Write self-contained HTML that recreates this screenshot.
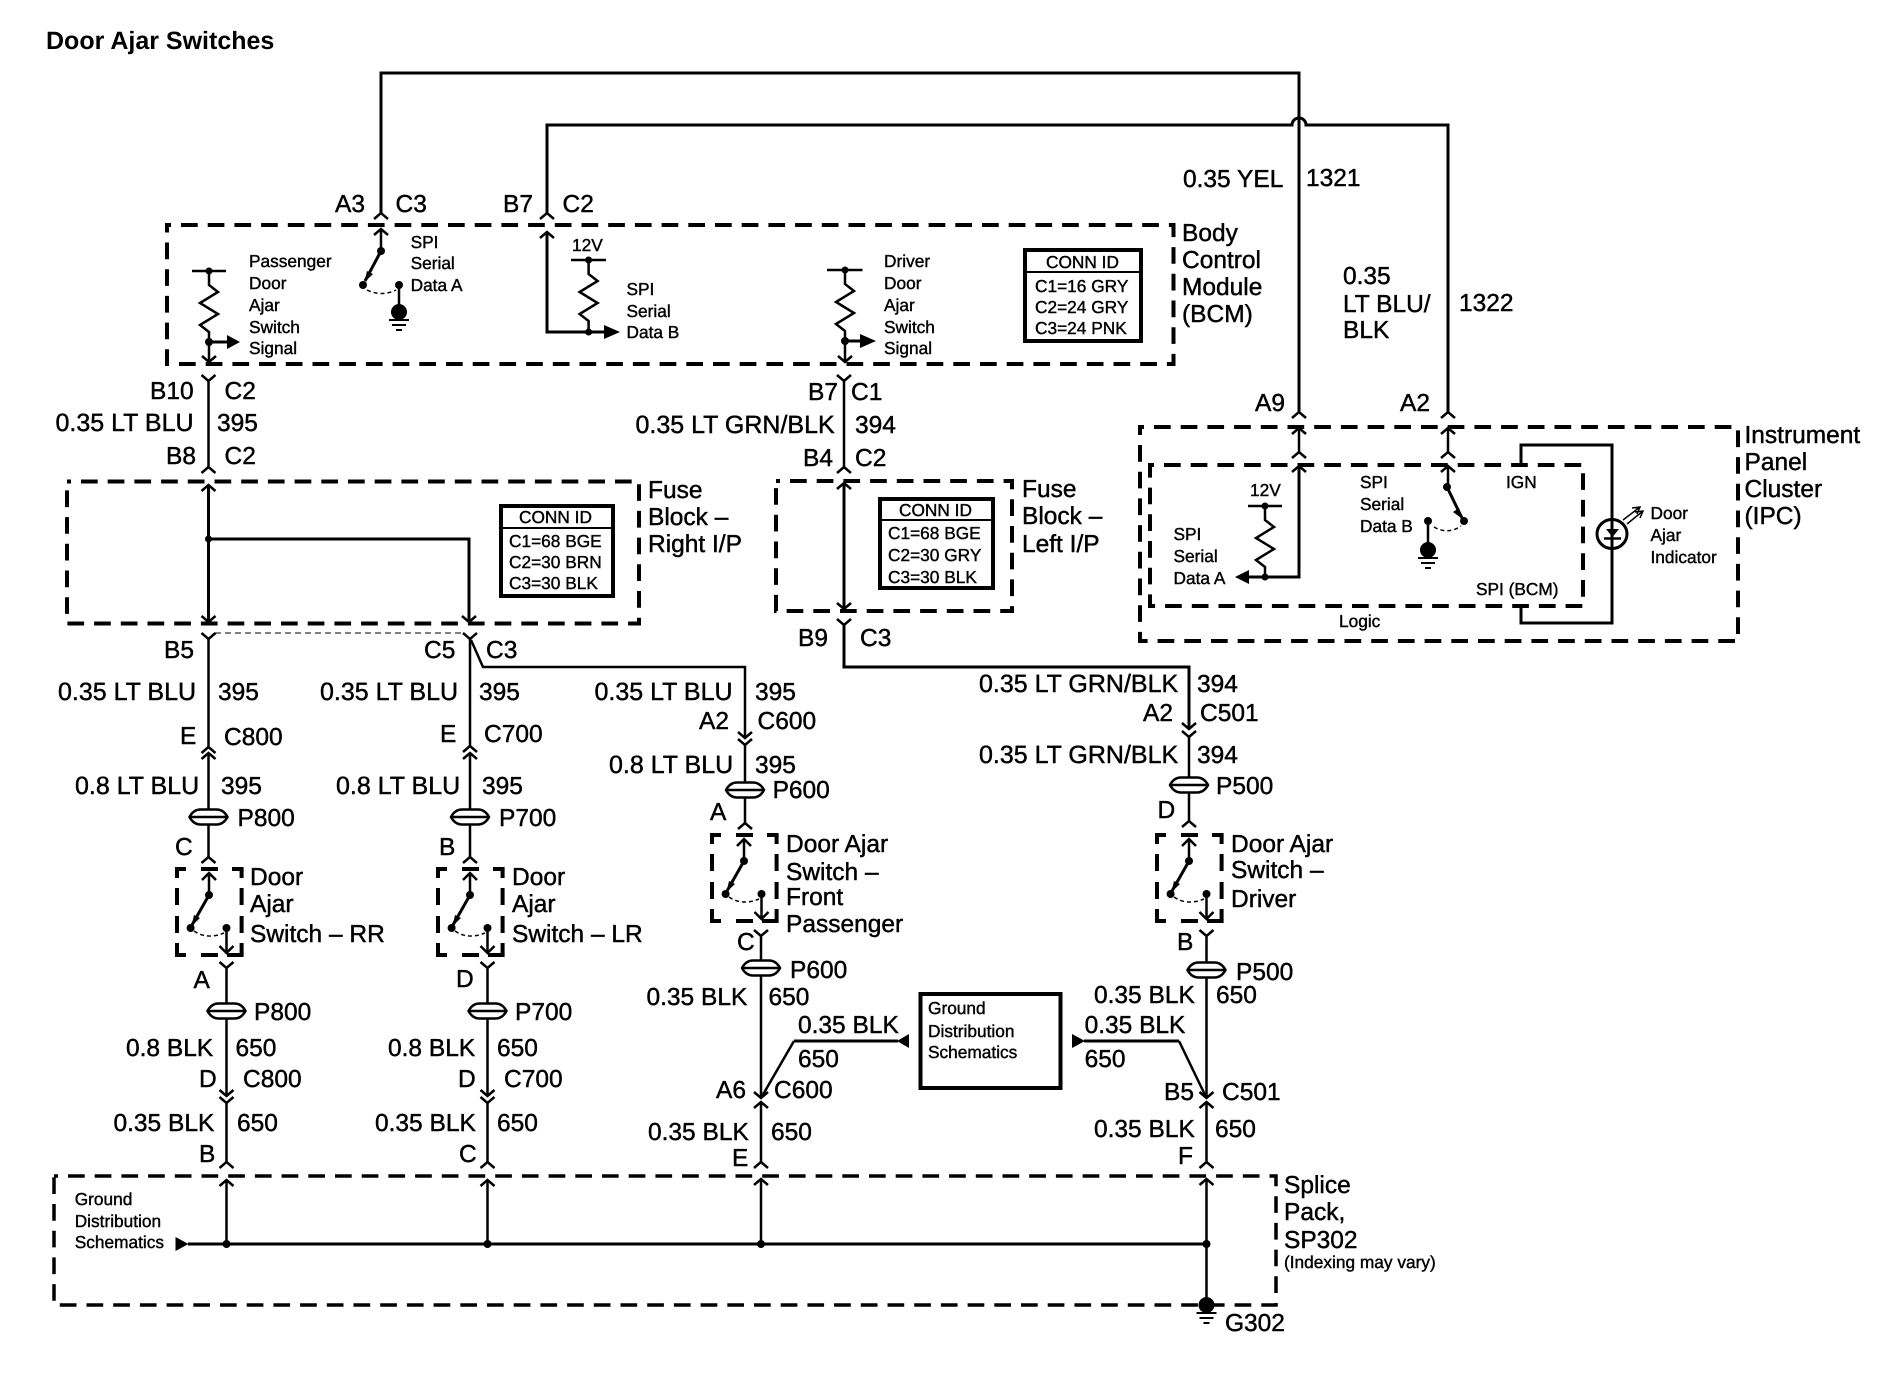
<!DOCTYPE html>
<html><head><meta charset="utf-8"><title>Door Ajar Switches</title>
<style>
html,body{margin:0;padding:0;background:#fff}
svg{display:block}
text{font-family:"Liberation Sans",Arial,sans-serif;fill:#000;text-rendering:geometricPrecision}
.l{font-size:24.5px;stroke:#000;stroke-width:.45px}
.lw{font-size:25px;stroke:#000;stroke-width:.45px}
.s{font-size:17.3px;stroke:#000;stroke-width:.4px}
.t{font-size:25px;font-weight:bold}
.w{fill:none;stroke:#000;stroke-width:3}
.n{fill:none;stroke:#000;stroke-width:2.5}
.d{fill:none;stroke:#000;stroke-width:4;stroke-dasharray:16.7 10;stroke-dashoffset:-14}
.b{fill:none;stroke:#000;stroke-width:4}
</style></head><body>
<svg xmlns="http://www.w3.org/2000/svg" width="1902" height="1392" viewBox="0 0 1902 1392">
<defs>
<path id="up" d="M-7,6 L0,0 L7,6" fill="none" stroke="#000" stroke-width="2.5"/>
<path id="dn" d="M-7,-6 L0,0 L7,-6" fill="none" stroke="#000" stroke-width="2.5"/>
<path id="y" d="M-7,0 L0,6 L7,0" fill="none" stroke="#000" stroke-width="2.5"/>
<g id="p">
<path d="M-19,0 Q-15,-7.500 -8,-7.500 H8 Q15,-7.500 19,0 Q15,7.500 8,7.500 H-8 Q-15,7.500 -19,0 Z" fill="#fff" stroke="#000" stroke-width="2.500"/>
<path d="M-19,0 H19" stroke="#000" stroke-width="2.500"/>
</g>
<g id="gnd">
<circle cx="0" cy="0" r="8" fill="#000"/>
<path d="M-10,8 H10 M-7,13 H7 M-3,18 H3" stroke="#000" stroke-width="2"/>
</g>
<g id="res" fill="none" stroke="#000" stroke-width="2.5">
<path d="M0,0 V13 L9,20 L-9,31 L9,42 L-9,53 L0,60 V70"/>
</g>
<g id="sw">
<path d="M-2,0 H9 M24,0 H41 M55,0 H66.600 M-2,86 H9 M24,86 H41 M50,86 H66.600" stroke="#000" stroke-width="4" fill="none"/>
<path d="M0,0 V9 M0,19 V36 M0,47 V64 M0,74 V86 M64.600,0 V9 M64.600,19 V36 M64.600,47 V64 M64.600,74 V86" stroke="#000" stroke-width="4" fill="none"/>
<path d="M32,4 V26 M25,11 L32,4 L39,11" fill="none" stroke="#000" stroke-width="2.5"/>
<circle cx="32" cy="26" r="4" fill="#000"/>
<path d="M32,26 L15,56" stroke="#000" stroke-width="3"/>
<polygon points="14.500,57 17,46 23,49"/>
<circle cx="13.600" cy="59" r="4" fill="#000"/>
<circle cx="49.500" cy="59" r="4" fill="#000"/>
<path d="M49.500,59 V84 M42.500,77 L49.500,84 L56.500,77" fill="none" stroke="#000" stroke-width="2.5"/>
<path d="M17,62 Q30,71 47,64" fill="none" stroke="#000" stroke-width="1.500" stroke-dasharray="4 3"/>
</g>
</defs>

<text class="t" x="46" y="49">Door Ajar Switches</text>

<!-- top wires -->
<path class="w" d="M381,213 V73 H1299 V412"/>
<path class="w" d="M547,213 V125 H1292 A7,7 0 0 1 1306,125 H1448 V412"/>
<use href="#up" x="381" y="213"/><use href="#up" x="547" y="213"/>
<use href="#up" x="1299" y="412"/><use href="#up" x="1448" y="412"/>
<text class="l" x="335" y="212">A3</text><text class="l" x="395.500" y="212">C3</text>
<text class="l" x="503" y="212">B7</text><text class="l" x="562.500" y="212">C2</text>
<text class="l" x="1183" y="187">0.35 YEL</text><text class="l" x="1306" y="186">1321</text>
<text class="l" x="1343" y="284">0.35</text><text class="l" x="1343" y="312">LT BLU/</text><text class="l" x="1343" y="338">BLK</text>
<text class="l" x="1459" y="311">1322</text>
<text class="l" x="1255" y="411">A9</text><text class="l" x="1400" y="411">A2</text>

<!-- BCM -->
<rect class="d" x="167" y="225" width="1006.500" height="139"/>
<text class="l" x="1182" y="241">Body</text><text class="l" x="1182" y="268">Control</text><text class="l" x="1182" y="295">Module</text><text class="l" x="1182" y="322">(BCM)</text>
<path class="n" d="M381,229 V251"/><use href="#up" x="381" y="229"/>
<circle cx="381" cy="251" r="4"/><path d="M381,251 L365,281" stroke="#000" stroke-width="3"/>
<polygon points="364.500,282 367,271 373,274"/>
<circle cx="363" cy="285" r="4"/><circle cx="399" cy="285" r="4"/>
<path class="n" d="M399,285 V312"/><use href="#gnd" x="399" y="312"/>
<path d="M367,290 Q382,297 396,290" fill="none" stroke="#000" stroke-width="1.500" stroke-dasharray="4 3"/>
<text class="s" x="410.600" y="248">SPI</text><text class="s" x="410.600" y="269">Serial</text><text class="s" x="410.600" y="291">Data A</text>

<path class="n" d="M192,271 H226"/><circle cx="209" cy="271" r="3.500"/>
<use href="#res" x="209" y="272"/>
<circle cx="209" cy="342" r="4"/>
<path class="w" d="M209,342 H227"/><polygon points="227,335 240,342 227,349"/>
<path class="n" d="M209,342 V362"/><use href="#dn" x="209" y="362"/>
<text class="s" x="249" y="267">Passenger</text><text class="s" x="249" y="289">Door</text><text class="s" x="249" y="311">Ajar</text><text class="s" x="249" y="333">Switch</text><text class="s" x="249" y="354">Signal</text>

<path class="w" d="M547,232 V332 H605"/><use href="#up" x="547" y="232"/>
<polygon points="604,325 620,332 604,339"/>
<circle cx="588.600" cy="332" r="3.500"/>
<path class="n" d="M571,260 H606"/><circle cx="588.600" cy="260" r="3.500"/>
<use href="#res" x="588.600" y="261"/>
<text class="s" x="572" y="251">12V</text>
<text class="s" x="626.500" y="295">SPI</text><text class="s" x="626.500" y="317">Serial</text><text class="s" x="626.500" y="338">Data B</text>

<path class="n" d="M827,270 H862.500"/><circle cx="845" cy="270" r="3.500"/>
<use href="#res" x="845" y="271"/>
<circle cx="845" cy="341" r="4"/>
<path class="w" d="M845,341 H861"/><polygon points="860,334 876,341 860,348"/>
<path class="n" d="M845,341 V362"/><use href="#dn" x="845" y="362"/>
<text class="s" x="884" y="267">Driver</text><text class="s" x="884" y="289">Door</text><text class="s" x="884" y="311">Ajar</text><text class="s" x="884" y="333">Switch</text><text class="s" x="884" y="354">Signal</text>

<rect class="b" x="1025" y="250" width="116" height="91"/>
<path d="M1025,272 H1141" stroke="#000" stroke-width="2"/>
<text class="s" x="1046" y="268">CONN ID</text><text class="s" x="1035" y="292">C1=16 GRY</text><text class="s" x="1035" y="313">C2=24 GRY</text><text class="s" x="1035" y="334">C3=24 PNK</text>

<!-- BCM to fuse -->
<use href="#y" x="208.500" y="375"/><path class="n" d="M208.500,381 V467"/><use href="#up" x="208.500" y="467"/>
<text class="l" x="150" y="399">B10</text><text class="l" x="224.500" y="399">C2</text>
<text class="lw" x="55.500" y="431">0.35 LT BLU</text><text class="l" x="217" y="431">395</text>
<text class="l" x="166" y="464">B8</text><text class="l" x="224.500" y="464">C2</text>
<use href="#y" x="844" y="375"/><path class="n" d="M844,381 V467"/><use href="#up" x="844" y="467"/>
<text class="l" x="808" y="400">B7</text><text class="l" x="851" y="400">C1</text>
<text class="lw" x="635.500" y="433">0.35 LT GRN/BLK</text><text class="l" x="855" y="433">394</text>
<text class="l" x="803" y="466">B4</text><text class="l" x="855" y="466">C2</text>

<!-- IPC -->
<rect class="d" x="1140" y="427" width="598" height="214"/>
<rect class="d" x="1150" y="465" width="433" height="141"/>
<text class="l" x="1744.500" y="443">Instrument</text><text class="l" x="1744.500" y="470">Panel</text><text class="l" x="1744.500" y="497">Cluster</text><text class="l" x="1744.500" y="524">(IPC)</text>
<path class="n" d="M1299,428 V452"/><use href="#up" x="1299" y="428"/><use href="#up" x="1299" y="452"/>
<path class="n" d="M1448,428 V452"/><use href="#up" x="1448" y="428"/><use href="#up" x="1448" y="452"/>
<path class="w" d="M1299,465 V577 H1248"/><use href="#up" x="1299" y="466"/>
<polygon points="1249,570 1235,577 1249,584"/><circle cx="1265" cy="577" r="3.500"/>
<path class="n" d="M1248,506 H1282"/><circle cx="1265" cy="506" r="3.500"/>
<use href="#res" x="1265" y="507"/>
<text class="s" x="1250" y="496">12V</text>
<text class="s" x="1173.500" y="540">SPI</text><text class="s" x="1173.500" y="562">Serial</text><text class="s" x="1173.500" y="584">Data A</text>
<path class="n" d="M1448,466 V487"/><use href="#up" x="1448" y="466"/>
<circle cx="1447" cy="487" r="4"/><path d="M1447,487 L1462,518" stroke="#000" stroke-width="3"/>
<polygon points="1462.500,519 1453,512 1459,508"/>
<circle cx="1464" cy="521" r="4"/><circle cx="1428" cy="521" r="4"/>
<path class="n" d="M1428,521 V550"/><use href="#gnd" x="1428" y="550"/>
<path d="M1434,527 Q1448,535 1461,526" fill="none" stroke="#000" stroke-width="1.500" stroke-dasharray="4 3"/>
<text class="s" x="1360" y="488">SPI</text><text class="s" x="1360" y="510">Serial</text><text class="s" x="1360" y="532">Data B</text>
<text class="s" x="1506" y="488">IGN</text><text class="s" x="1476" y="595">SPI (BCM)</text><text class="s" x="1339" y="627">Logic</text>
<path class="w" d="M1521,465 V445 H1612 V623 H1521 V606"/>
<ellipse cx="1612" cy="534" rx="15" ry="14.500" fill="none" stroke="#000" stroke-width="3"/>
<polygon points="1606,529 1619,529 1612.500,537"/><path d="M1604,538.500 H1621" stroke="#000" stroke-width="2.500"/>
<path d="M1623,520 L1640,507 M1627,524 L1643,511 M1632,508 L1640,507 L1637,514 M1635,512 L1643,511 L1640,518" fill="none" stroke="#000" stroke-width="1.500"/>
<text class="s" x="1650.500" y="519">Door</text><text class="s" x="1650.500" y="541">Ajar</text><text class="s" x="1650.500" y="563">Indicator</text>

<!-- Fuse R -->
<rect class="d" x="67" y="481.500" width="572" height="142"/>
<path class="w" d="M208.500,485 V622 M208.500,539 H469 V622"/>
<use href="#up" x="208.500" y="485"/><use href="#dn" x="208.500" y="622"/><use href="#dn" x="469" y="622"/>
<circle cx="208.500" cy="539" r="3.500"/>
<rect class="b" x="501" y="506" width="112" height="90"/>
<path d="M501,528 H613" stroke="#000" stroke-width="2"/>
<text class="s" x="519" y="523">CONN ID</text><text class="s" x="509" y="547">C1=68 BGE</text><text class="s" x="509" y="568">C2=30 BRN</text><text class="s" x="509" y="589">C3=30 BLK</text>
<text class="l" x="648" y="498">Fuse</text><text class="l" x="648" y="525">Block –</text><text class="l" x="648" y="552">Right I/P</text>
<path d="M215,633 H463" fill="none" stroke="#000" stroke-width="1" stroke-dasharray="6 4"/>

<!-- Fuse L -->
<rect class="d" x="776" y="481" width="236" height="130"/>
<path class="w" d="M844,483 V609"/><use href="#up" x="844" y="483"/><use href="#dn" x="844" y="609"/>
<rect class="b" x="880" y="499" width="113" height="89"/>
<path d="M880,520 H993" stroke="#000" stroke-width="2"/>
<text class="s" x="899" y="516">CONN ID</text><text class="s" x="888" y="539">C1=68 BGE</text><text class="s" x="888" y="561">C2=30 GRY</text><text class="s" x="888" y="583">C3=30 BLK</text>
<text class="l" x="1022" y="497">Fuse</text><text class="l" x="1022" y="524">Block –</text><text class="l" x="1022" y="552">Left I/P</text>

<!-- Column RR -->
<use href="#y" x="208.500" y="633"/><path class="n" d="M208.500,639 V747"/><use href="#up" x="208.500" y="747"/>
<text class="l" x="164" y="658">B5</text>
<text class="lw" x="58" y="700">0.35 LT BLU</text><text class="l" x="218" y="700">395</text>
<text class="l" x="180" y="744">E</text><text class="l" x="224" y="745">C800</text>
<path class="n" d="M208.500,753 V857"/><use href="#up" x="208.500" y="753"/><use href="#up" x="208.500" y="857"/>
<text class="lw" x="75" y="794">0.8 LT BLU</text><text class="l" x="221" y="794">395</text>
<use href="#p" x="208.500" y="817"/><text class="l" x="237.500" y="826">P800</text>
<text class="l" x="175" y="855">C</text>
<use href="#sw" x="177" y="869"/>
<text class="l" x="250" y="885">Door</text><text class="l" x="250" y="912">Ajar</text><text class="l" x="250" y="942">Switch – RR</text>
<use href="#y" x="226.500" y="962"/><path class="n" d="M226.500,968 V1096"/>
<use href="#dn" x="226.500" y="1096"/><use href="#y" x="226.500" y="1097"/><path class="n" d="M226.500,1103 V1162"/><use href="#up" x="226.500" y="1162"/>
<text class="l" x="193.500" y="988">A</text>
<use href="#p" x="226.500" y="1011"/><text class="l" x="254" y="1020">P800</text>
<text class="l" x="126" y="1056">0.8 BLK</text><text class="l" x="235.500" y="1056">650</text>
<text class="l" x="199" y="1087">D</text><text class="l" x="243" y="1087">C800</text>
<text class="l" x="113.500" y="1131">0.35 BLK</text><text class="l" x="237" y="1131">650</text>
<text class="l" x="199" y="1162">B</text>

<!-- Column LR -->
<use href="#y" x="470" y="633"/><path class="n" d="M470,639 V746"/><use href="#up" x="470" y="746"/>
<text class="l" x="424" y="658">C5</text><text class="l" x="486" y="658">C3</text>
<text class="lw" x="320" y="700">0.35 LT BLU</text><text class="l" x="479" y="700">395</text>
<text class="l" x="440" y="742">E</text><text class="l" x="484" y="742">C700</text>
<path class="n" d="M470,753 V857"/><use href="#up" x="470" y="753"/><use href="#up" x="470" y="857"/>
<text class="lw" x="336" y="794">0.8 LT BLU</text><text class="l" x="482" y="794">395</text>
<use href="#p" x="470" y="817"/><text class="l" x="499" y="826">P700</text>
<text class="l" x="439" y="855">B</text>
<use href="#sw" x="438" y="869"/>
<text class="l" x="512" y="885">Door</text><text class="l" x="512" y="912">Ajar</text><text class="l" x="512" y="942">Switch – LR</text>
<use href="#y" x="487.500" y="962"/><path class="n" d="M487.500,968 V1096"/>
<use href="#dn" x="487.500" y="1096"/><use href="#y" x="487.500" y="1097"/><path class="n" d="M487.500,1103 V1162"/><use href="#up" x="487.500" y="1162"/>
<text class="l" x="456" y="987">D</text>
<use href="#p" x="487.500" y="1011"/><text class="l" x="515" y="1020">P700</text>
<text class="l" x="388" y="1056">0.8 BLK</text><text class="l" x="497" y="1056">650</text>
<text class="l" x="458" y="1087">D</text><text class="l" x="504" y="1087">C700</text>
<text class="l" x="375" y="1131">0.35 BLK</text><text class="l" x="497" y="1131">650</text>
<text class="l" x="459" y="1162">C</text>

<!-- Column Front Passenger -->
<path class="n" d="M471,640 L483,667 H745 V738"/><use href="#dn" x="745" y="738"/>
<use href="#y" x="745" y="739"/><path class="n" d="M745,745 V823"/><use href="#up" x="745" y="823"/>
<text class="lw" x="594.500" y="700">0.35 LT BLU</text><text class="l" x="755" y="700">395</text>
<text class="l" x="699" y="729">A2</text><text class="l" x="757.500" y="729">C600</text>
<text class="lw" x="609" y="773">0.8 LT BLU</text><text class="l" x="755" y="773">395</text>
<use href="#p" x="745" y="790"/><text class="l" x="772.600" y="798">P600</text>
<text class="l" x="710" y="820">A</text>
<use href="#sw" x="712" y="835"/>
<text class="l" x="786" y="852">Door Ajar</text><text class="l" x="786" y="880">Switch –</text><text class="l" x="786" y="905">Front</text><text class="l" x="786" y="932">Passenger</text>
<use href="#y" x="761" y="930"/><path class="n" d="M761,936 V1098"/>
<text class="l" x="737" y="950">C</text>
<use href="#p" x="761" y="968"/><text class="l" x="790" y="978">P600</text>
<text class="l" x="646.500" y="1005">0.35 BLK</text><text class="l" x="768.500" y="1005">650</text>
<path class="n" d="M761,1098 L794,1041"/><path class="w" d="M794,1041 H898"/><polygon points="909,1034 909,1048 897,1041"/>
<text class="l" x="798" y="1033">0.35 BLK</text><text class="l" x="798" y="1067">650</text>
<use href="#dn" x="761" y="1098"/>
<use href="#up" x="761" y="1102"/><path class="n" d="M761,1102 V1162"/><use href="#up" x="761" y="1162"/>
<text class="l" x="716" y="1098">A6</text><text class="l" x="774" y="1098">C600</text>
<text class="l" x="648" y="1140">0.35 BLK</text><text class="l" x="771" y="1140">650</text>
<text class="l" x="732" y="1166">E</text>

<!-- Column Driver -->
<path class="w" d="M844,625 V667 H1189 V729"/><use href="#y" x="844" y="619"/><use href="#dn" x="1189" y="729"/>
<text class="l" x="798" y="646">B9</text><text class="l" x="860" y="646">C3</text>
<text class="lw" x="979" y="692">0.35 LT GRN/BLK</text><text class="l" x="1197" y="692">394</text>
<text class="l" x="1143" y="721">A2</text><text class="l" x="1200" y="721">C501</text>
<use href="#y" x="1189" y="731"/><path class="n" d="M1189,737 V821"/><use href="#up" x="1189" y="821"/>
<text class="lw" x="979" y="763">0.35 LT GRN/BLK</text><text class="l" x="1197" y="763">394</text>
<use href="#p" x="1189" y="785"/><text class="l" x="1216" y="794">P500</text>
<text class="l" x="1157.500" y="818">D</text>
<use href="#sw" x="1157" y="835"/>
<text class="l" x="1231" y="852">Door Ajar</text><text class="l" x="1231" y="878">Switch –</text><text class="l" x="1231" y="907">Driver</text>
<use href="#y" x="1206.500" y="930"/><path class="n" d="M1206.500,936 V1098"/>
<text class="l" x="1177" y="950">B</text>
<use href="#p" x="1206.500" y="970"/><text class="l" x="1236" y="980">P500</text>
<text class="l" x="1094" y="1003">0.35 BLK</text><text class="l" x="1216" y="1003">650</text>
<path class="n" d="M1206.500,1098 L1179,1041"/><path class="w" d="M1179,1041 H1084"/><polygon points="1072,1034 1072,1048 1085,1041"/>
<text class="l" x="1084.600" y="1033">0.35 BLK</text><text class="l" x="1084.600" y="1067">650</text>
<use href="#dn" x="1206.500" y="1098"/>
<use href="#up" x="1206.500" y="1102"/><path class="n" d="M1206.500,1102 V1162"/><use href="#up" x="1206.500" y="1162"/>
<text class="l" x="1164" y="1100">B5</text><text class="l" x="1222" y="1100">C501</text>
<text class="l" x="1094" y="1137">0.35 BLK</text><text class="l" x="1215" y="1137">650</text>
<text class="l" x="1178" y="1164">F</text>

<!-- Ground box -->
<rect x="920.500" y="994" width="140" height="94" class="b"/>
<text class="s" x="928" y="1014">Ground</text><text class="s" x="928" y="1037">Distribution</text><text class="s" x="928" y="1058">Schematics</text>

<!-- Splice pack -->
<rect class="d" style="stroke-width:3.500" x="54" y="1176" width="1222" height="129"/>
<text class="l" x="1284" y="1193">Splice</text><text class="l" x="1284" y="1220">Pack,</text><text class="l" x="1284" y="1248">SP302</text>
<text class="s" x="1284" y="1268">(Indexing may vary)</text>
<text class="s" x="74.700" y="1205">Ground</text><text class="s" x="74.700" y="1227">Distribution</text><text class="s" x="74.700" y="1248">Schematics</text>
<polygon points="175.500,1237 188.500,1244 175.500,1251"/>
<path class="w" d="M188,1244 H1206"/>
<path class="n" d="M226.500,1180 V1244"/><use href="#up" x="226.500" y="1180"/><circle cx="226.500" cy="1244" r="4"/>
<path class="n" d="M487.500,1180 V1244"/><use href="#up" x="487.500" y="1180"/><circle cx="487.500" cy="1244" r="4"/>
<path class="n" d="M761,1179 V1244"/><use href="#up" x="761" y="1179"/><circle cx="761" cy="1244" r="4"/>
<path class="n" d="M1206.500,1179 V1305"/><use href="#up" x="1206.500" y="1179"/><circle cx="1206.500" cy="1244" r="4"/>
<use href="#gnd" x="1206.500" y="1305"/>
<text class="l" x="1225" y="1331">G302</text>
</svg>
</body></html>
